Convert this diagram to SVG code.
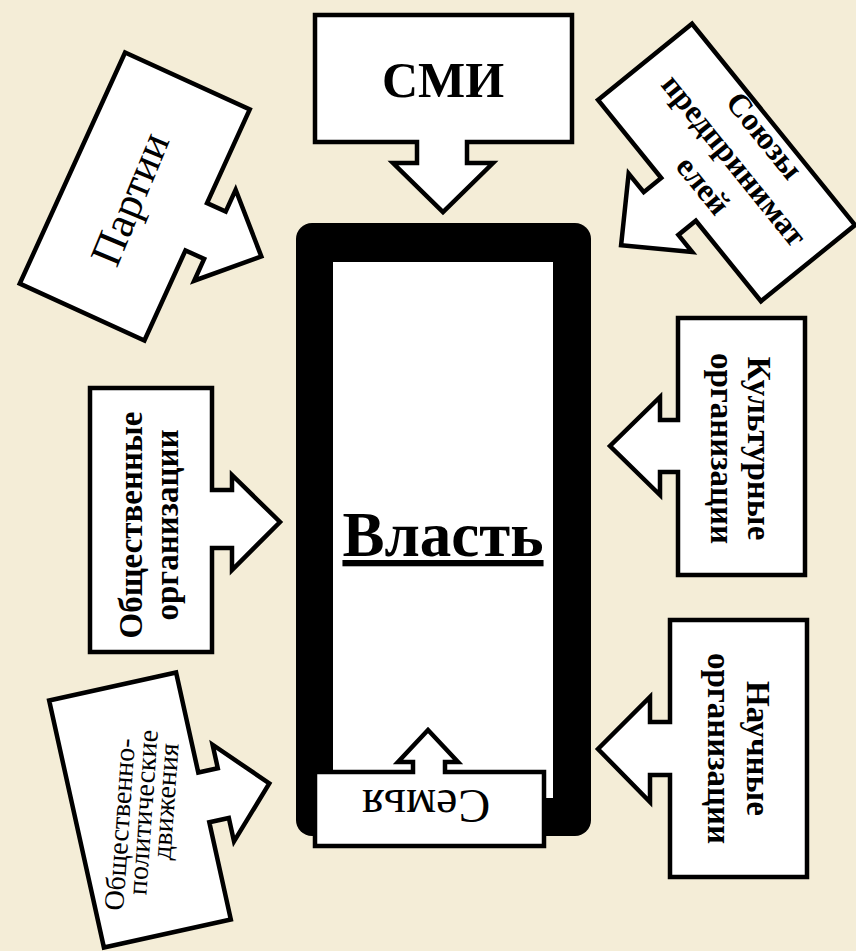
<svg xmlns="http://www.w3.org/2000/svg" width="856" height="951" viewBox="0 0 856 951">
<style>
.box{fill:#fff;stroke:#000;stroke-width:4.5;stroke-linejoin:miter}
.b{font-family:"Liberation Serif","Times New Roman",serif;font-weight:bold;fill:#000;text-anchor:middle}
.r{font-family:"Liberation Serif","Times New Roman",serif;fill:#000;text-anchor:middle}
</style>
<rect width="856" height="951" fill="#F4EDD7"/>
<g id="vlast">
<rect x="296" y="223" width="295" height="613" rx="16" fill="#000"/>
<rect x="333" y="262" width="220" height="536" fill="#fff"/>
<text class="b" x="443" y="556" font-size="63" text-decoration="underline">Власть</text>
</g>
<g id="smi">
<path class="box" d="M315,15 H572 V142 H467 V163 H493 L443,212 L393,163 H417 V142 H315 Z"/>
<text class="b" x="443" y="97" font-size="50">СМИ</text>
</g>
<g id="partii" transform="translate(134.75,196.5) rotate(24.5)">
<path class="box" d="M-68.5,-127 H68.5 V-24 H89 V-48 L140,2 L89,52 V28 H68.5 V127 H-68.5 Z"/>
<text class="r" transform="rotate(-92)" x="-4" y="11" font-size="44">Партии</text>
</g>
<g id="soyuzy" transform="translate(726.5,162.5) rotate(-39)">
<path class="box" d="M-60.5,-129.5 H60.5 V129.5 H-60.5 V26 H-83 V48 L-134,-2 L-83,-53 V-29 H-60.5 Z"/>
<g transform="rotate(90)">
<text class="b" x="3" y="-36" font-size="32">Союзы</text>
<text class="b" x="3" y="3" font-size="32">предпринимат</text>
<text class="b" x="3" y="43" font-size="32">елей</text>
</g>
</g>
<g id="kultur" transform="translate(741.5,446.5)">
<path class="box" d="M-63.5,-128.5 H63.5 V128.5 H-63.5 V25.5 H-81.5 V48.5 L-131.5,-0.5 L-81.5,-49.5 V-26.5 H-63.5 Z"/>
<text class="b" transform="rotate(90)" x="2" y="-6" font-size="33">Культурные</text>
<text class="b" transform="rotate(90)" x="2" y="31" font-size="33">организации</text>
</g>
<g id="nauch" transform="translate(738.5,748.5)">
<path class="box" d="M-68.5,-128.5 H68.5 V128.5 H-68.5 V26.5 H-88.5 V53.5 L-140.5,0.5 L-88.5,-51.5 V-26.5 H-68.5 Z"/>
<text class="b" transform="rotate(90)" x="0" y="-8" font-size="33">Научные</text>
<text class="b" transform="rotate(90)" x="0" y="31" font-size="33">организации</text>
</g>
<g id="obshch" transform="translate(151,520)">
<path class="box" d="M-61,-132 H61 V-30 H81 V-45 L129,2 L81,50 V28 H61 V132 H-61 Z"/>
<text class="b" transform="rotate(-90)" x="-5" y="-9" font-size="33">Общественные</text>
<text class="b" transform="rotate(-90)" x="-5" y="27" font-size="33">организации</text>
</g>
<g id="dvizh">
<path class="box" transform="translate(140,810) rotate(-12.5)" d="M-65,-126.5 H65 V-24 H85 V-48 L132,2 L85,51 V27 H65 V126.5 H-65 Z"/>
<text class="r" transform="translate(129,825) rotate(-86)" font-size="28">Общественно-</text>
<text class="r" transform="translate(152,813) rotate(-86)" font-size="28">политические</text>
<text class="r" transform="translate(174.5,802) rotate(-86)" font-size="28">движения</text>
</g>
<g id="semya">
<path class="box" d="M315,772 H413 V762 H398 L428,730 L458,762 H445 V772 H544 V846 H315 Z"/>
<text class="r" transform="rotate(180 426 790)" x="426" y="790" font-size="48">Семья</text>
</g>
<g id="connectors"/>
</svg>
